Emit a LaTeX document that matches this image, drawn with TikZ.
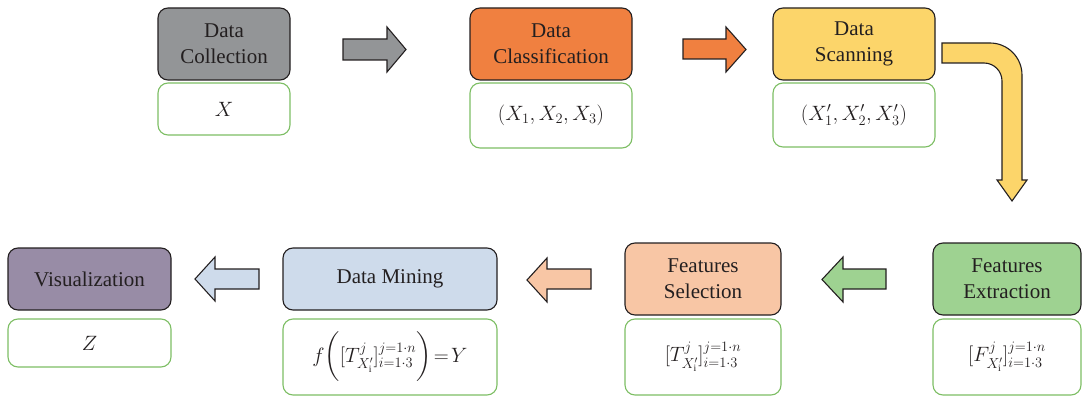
\documentclass[tikz,border=0pt]{standalone}
\usepackage{amsmath}
\usepackage{fontspec}
\setmainfont{Liberation Serif}
\usetikzlibrary{positioning}
\definecolor{cgray}{RGB}{147,149,151}
\definecolor{corange}{RGB}{240,128,64}
\definecolor{cyellow}{RGB}{252,213,106}
\definecolor{cpurple}{RGB}{152,140,166}
\definecolor{cblue}{RGB}{206,219,235}
\definecolor{cpeach}{RGB}{248,198,165}
\definecolor{cgreen}{RGB}{158,210,145}
\definecolor{cgborder}{RGB}{125,190,100}
\definecolor{cline}{RGB}{35,31,32}
\tikzset{
  head/.style={draw=cline, line width=1.1pt, rounded corners=10pt, inner sep=0pt, align=center,
    font=\fontsize{21}{26}\selectfont, text=cline},
  valbox/.style={draw=cgborder, line width=1.1pt, rounded corners=10pt, fill=white, inner sep=0pt,
    font=\fontsize{19.5}{24}\selectfont, text=cline},
  blockarrow/.style={draw=cline, line width=1.1pt, line join=miter},
}
\begin{document}
\begin{tikzpicture}[x=1pt,y=-1pt]
\useasboundingbox (0,0) rectangle (1082,396);
% top row boxes
\node[head, fill=cgray, minimum width=132pt, minimum height=72pt] (dc) at (224,44) {Data\\Collection};
\node[valbox, minimum width=132pt, minimum height=52pt] (dcv) at (224,109) {$X$};
\node[head, fill=corange, minimum width=162pt, minimum height=72pt] (dcl) at (551,44) {Data\\Classification};
\node[valbox, minimum width=162pt, minimum height=65pt] (dclv) at (551,115.5) {$(X_1, X_2, X_3)$};
\node[head, fill=cyellow, minimum width=162pt, minimum height=72pt] (ds) at (854,44) {Data\\Scanning};
\node[valbox, minimum width=162pt, minimum height=64pt] (dsv) at (854,115) {$(X'_1, X'_2, X'_3)$};
% bottom row boxes
\node[head, fill=cpurple, minimum width=163pt, minimum height=62pt] (vis) at (89.5,279) {Visualization};
\node[valbox, minimum width=163pt, minimum height=48pt] (visv) at (89.5,343) {$Z$};
\node[head, fill=cblue, minimum width=214pt, minimum height=62pt] (dm) at (390,279) {Data Mining};
\node[valbox, minimum width=214pt, minimum height=76pt] (dmv) at (390,357) {$f\biggl([T^{j}_{X'_{\mathrm{i}}}]^{j=1\cdot n}_{i=1\cdot 3}\biggr)\!=\!Y$};
\node[head, fill=cpeach, minimum width=156pt, minimum height=72pt] (fs) at (703,279) {Features\\Selection};
\node[valbox, minimum width=156pt, minimum height=76pt] (fsv) at (703,357) {$[T^{j}_{X'_{\mathrm{i}}}]^{j=1\cdot n}_{i=1\cdot 3}$};
\node[head, fill=cgreen, minimum width=148pt, minimum height=72pt] (fe) at (1007,279) {Features\\Extraction};
\node[valbox, minimum width=148pt, minimum height=76pt] (fev) at (1007,357) {$[F^{j}_{X'_{\mathrm{i}}}]^{j=1\cdot n}_{i=1\cdot 3}$};
% block arrows
\draw[blockarrow, fill=cgray] (343,39) -- (387,39) -- (387,27) -- (406,49.5) -- (387,72) -- (387,60) -- (343,60) -- cycle;
\draw[blockarrow, fill=corange] (683,39) -- (726,39) -- (726,27) -- (746,49.5) -- (726,72) -- (726,59) -- (683,59) -- cycle;
\draw[blockarrow, fill=cyellow] (942,43) -- (990,43) arc[start angle=-90, end angle=0, radius=32] -- (1022,180) -- (1027,180) -- (1012,201) -- (997,180) -- (1002,180) -- (1002,81) arc[start angle=0, end angle=-90, radius=18] -- (942,63) -- cycle;
\draw[blockarrow, fill=cgreen] (886,269) -- (843,269) -- (843,257) -- (822,279.5) -- (843,302) -- (843,289) -- (886,289) -- cycle;
\draw[blockarrow, fill=cpeach] (591,269) -- (547,269) -- (547,258) -- (527,280) -- (547,302) -- (547,289) -- (591,289) -- cycle;
\draw[blockarrow, fill=cblue] (259,269) -- (215,269) -- (215,257) -- (195,279) -- (215,301) -- (215,289) -- (259,289) -- cycle;
\end{tikzpicture}
\end{document}
